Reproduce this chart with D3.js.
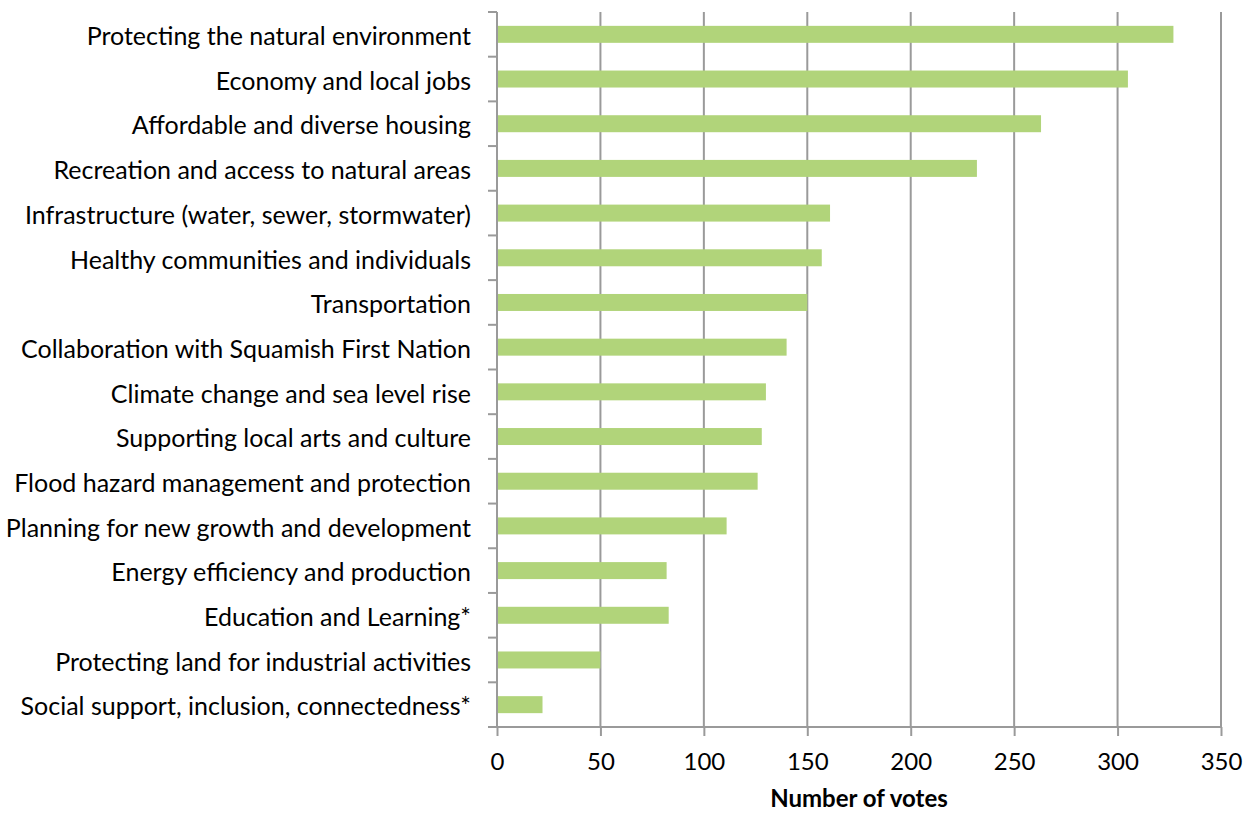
<!DOCTYPE html>
<html>
<head>
<meta charset="utf-8">
<script src="https://cdn.jsdelivr.net/npm/d3@7"></script>
<style>
  body { margin: 0; background: #fff; }
  text { font-family: Lato, "Open Sans", sans-serif; fill: #000; }
</style>
</head>
<body>
<div id="chart"></div>
<script>
// Chart data
// ============================================
var categories = [
    "Protecting the natural environment",
    "Economy and local jobs",
    "Affordable and diverse housing",
    "Recreation and access to natural areas",
    "Infrastructure (water, sewer, stormwater)",
    "Healthy communities and individuals",
    "Transportation",
    "Collaboration with Squamish First Nation",
    "Climate change and sea level rise",
    "Supporting local arts and culture",
    "Flood hazard management and protection",
    "Planning for new growth and development",
    "Energy efficiency and production",
    "Education and Learning*",
    "Protecting land for industrial activities",
    "Social support, inclusion, connectedness*"
];
var votes = [327, 305, 263, 232, 161, 157, 150, 140, 130, 128, 126, 111, 82, 83, 50, 22];
var xTicks = [0, 50, 100, 150, 200, 250, 300, 350];
var xTitle = "Number of votes";

// SVG dimensions
var svgWidth = 1243;
var svgHeight = 814;
var margin = { top: 12, right: 22, bottom: 87, left: 497 };
var chartWidth = svgWidth - margin.left - margin.right;
var chartHeight = svgHeight - margin.top - margin.bottom;

var svg = d3.select("#chart")
    .append("svg")
    .attr("width", svgWidth)
    .attr("height", svgHeight);

var chartGroup = svg.append("g")
    .attr("transform", `translate(${margin.left}, ${margin.top})`);

// Scales
var xScale = d3.scaleLinear().domain([0, 350]).range([0, chartWidth]);
var yScale = d3.scaleBand().domain(categories).range([0, chartHeight]).paddingInner(0.62).paddingOuter(0.31);
var step = yScale.step();

// Gridlines
chartGroup.append("g")
    .selectAll("line")
    .data(xTicks.slice(1))
    .enter()
    .append("line")
    .attr("x1", d => xScale(d))
    .attr("x2", d => xScale(d))
    .attr("y1", 0)
    .attr("y2", chartHeight)
    .attr("stroke", "#9a9a9a")
    .attr("stroke-width", 2);

// Bars
chartGroup.append("g")
    .selectAll("rect")
    .data(votes)
    .enter()
    .append("rect")
    .attr("x", 0)
    .attr("y", (d, i) => yScale(categories[i]))
    .attr("width", d => xScale(d))
    .attr("height", yScale.bandwidth())
    .attr("fill", "#b1d47a");

// Y axis (ticks at band boundaries)
var yAxis = chartGroup.append("g");
yAxis.append("line")
    .attr("x1", 0).attr("x2", 0)
    .attr("y1", 0).attr("y2", chartHeight)
    .attr("stroke", "#9a9a9a").attr("stroke-width", 2);
yAxis.selectAll(".ytick")
    .data(d3.range(categories.length + 1))
    .enter()
    .append("line")
    .attr("class", "ytick")
    .attr("x1", -9).attr("x2", 0)
    .attr("y1", i => i * step).attr("y2", i => i * step)
    .attr("stroke", "#9a9a9a").attr("stroke-width", 2);
yAxis.selectAll(".ylabel")
    .data(categories)
    .enter()
    .append("text")
    .attr("class", "ylabel")
    .attr("x", -26)
    .attr("y", d => yScale(d) + yScale.bandwidth() / 2 + 2)
    .attr("dy", "0.35em")
    .attr("text-anchor", "end")
    .style("font-size", "25px")
    .text(d => d);

// X axis
var bottomAxis = d3.axisBottom(xScale)
    .tickValues(xTicks)
    .tickSize(9)
    .tickPadding(17)
    .tickSizeOuter(0);
var xAxis = chartGroup.append("g")
    .attr("transform", `translate(0, ${chartHeight})`)
    .call(bottomAxis);
xAxis.select(".domain").attr("stroke", "#9a9a9a").attr("stroke-width", 2)
    .attr("d", `M-9,0H${chartWidth}`);
xAxis.selectAll(".tick line").attr("stroke", "#9a9a9a").attr("stroke-width", 2);
xAxis.selectAll(".tick text")
    .style("font-size", "24px")
    .style("font-family", "Lato, 'Open Sans', sans-serif")
    .attr("fill", "#000");

chartGroup.append("text")
    .attr("x", chartWidth / 2)
    .attr("y", chartHeight + 80)
    .attr("text-anchor", "middle")
    .style("font-size", "24px")
    .style("font-weight", "bold")
    .text(xTitle);
</script>
</body>
</html>
